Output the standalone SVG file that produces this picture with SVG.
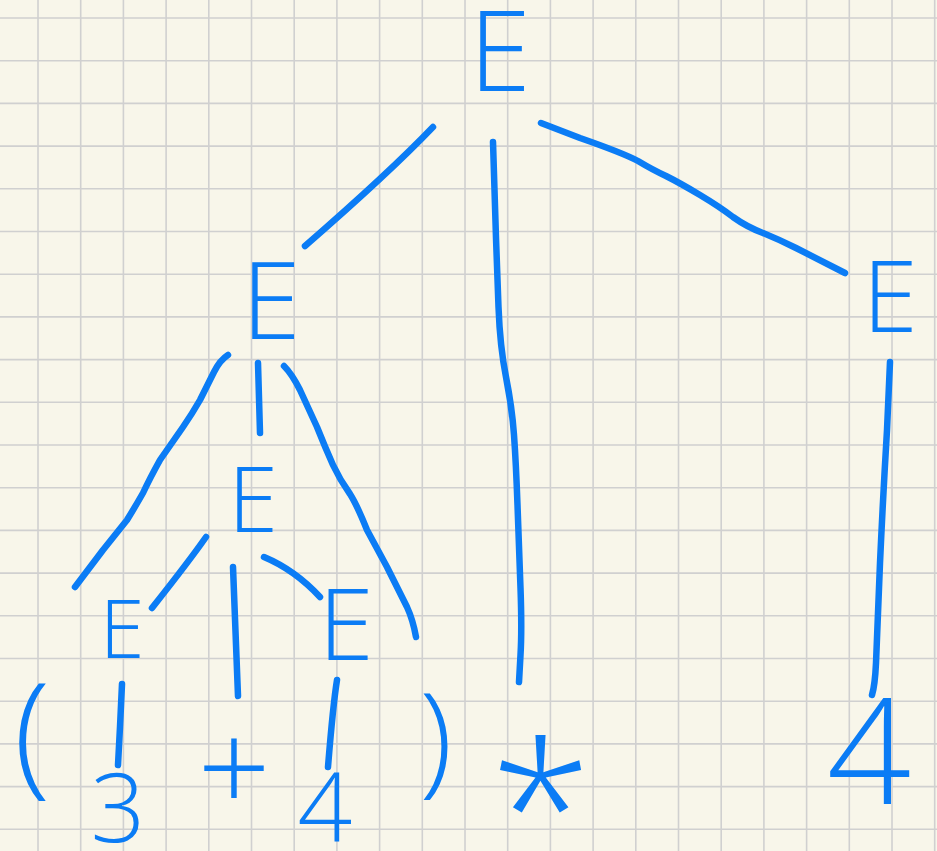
<svg xmlns="http://www.w3.org/2000/svg" width="937" height="851" viewBox="0 0 937 851">
<style>
.grid{stroke:#d0d0d0;stroke-width:1.6;fill:none}
.edge{stroke:#0b7cf5;stroke-width:6.5;fill:none;stroke-linecap:round;stroke-linejoin:round}
.lbl{fill:#0b7cf5;font-family:"Open Sans","Inter","Liberation Sans",sans-serif;font-weight:300;text-anchor:middle}
</style>
<rect width="937" height="851" fill="#f8f6ea"/>
<path class="grid" d="M38,0V851M80.7,0V851M123.4,0V851M166.1,0V851M208.8,0V851M251.5,0V851M294.2,0V851M336.9,0V851M379.6,0V851M422.3,0V851M465,0V851M507.7,0V851M550.4,0V851M593.1,0V851M635.8,0V851M678.5,0V851M721.2,0V851M763.9,0V851M806.6,0V851M849.3,0V851M892,0V851M934.7,0V851M0,18H937M0,60.7H937M0,103.4H937M0,146.1H937M0,188.8H937M0,231.5H937M0,274.2H937M0,316.9H937M0,359.6H937M0,402.3H937M0,445H937M0,487.7H937M0,530.4H937M0,573.1H937M0,615.8H937M0,658.5H937M0,701.2H937M0,743.9H937M0,786.6H937M0,829.3H937"/>
<g id="connectors">
<path class="edge" d="M433,127 Q390,172 305,246"/>
<path class="edge" d="M493,142 L496,238 Q497,267 498.5,307 Q500,347 506,377 Q512,407 514,435 Q516,463 517.5,505 Q519,547 520.5,588 Q522,630 520.5,655 L519,682"/>
<path class="edge" d="M541,123 L580,138 Q623,153 638,161 Q653,170 666,176 Q680,183 700,195 Q720,207 733,217 Q747,227 763,233 Q780,240 796,248 L845,273"/>
<path class="edge" d="M228,355 Q220,360 214,372 L200,400 Q192,414 183,427 L160,460 Q150,478 143,493 Q135,507 127,520 Q115,535 103,550 L75,587"/>
<path class="edge" d="M258,363 L260,433"/>
<path class="edge" d="M284,366 Q292,374 300,390 L317,427 Q325,447 333,465 Q340,480 350,494 Q357,505 367,530 L387,567 L407,607 Q413,620 416,637"/>
<path class="edge" d="M206,537 Q190,560 152,608"/>
<path class="edge" d="M233,567 L238,696"/>
<path class="edge" d="M264,557 Q295,570 320,597"/>
<path class="edge" d="M122,684 L120,727 L118,765"/>
<path class="edge" d="M337,680 Q333,705 328,767"/>
<path class="edge" d="M890,362 L887,430 Q883,497 880,563 L876,663 Q875,685 872,695"/>
</g>
<g id="node-root"><text class="lbl" x="500" y="91" font-size="112">E</text></g>
<g id="node-e-left"><text class="lbl" x="271" y="339" font-size="107">E</text></g>
<g id="node-e-right"><text class="lbl" x="890" y="332" font-size="100">E</text></g>
<g id="node-e-mid"><text class="lbl" x="253" y="532" font-size="90">E</text></g>
<g id="node-e-3"><text class="lbl" x="122" y="658" font-size="81">E</text></g>
<g id="node-e-4"><text class="lbl" x="346" y="660" font-size="100">E</text></g>
<g id="leaf-lparen"><text class="lbl" x="32" y="780" font-size="134">(</text></g>
<g id="leaf-3"><text class="lbl" x="118" y="842" font-size="96">3</text></g>
<g id="leaf-plus"><text class="lbl" x="234" y="813" font-size="128">+</text></g>
<g id="leaf-4a"><text class="lbl" x="325" y="842" font-size="96">4</text></g>
<g id="leaf-rparen"><text class="lbl" x="436" y="781" font-size="121">)</text></g>
<g id="leaf-star"><text class="lbl" x="541" y="875" font-size="185">*</text></g>
<g id="leaf-4b"><text class="lbl" x="869" y="804" font-size="148">4</text></g>
</svg>
